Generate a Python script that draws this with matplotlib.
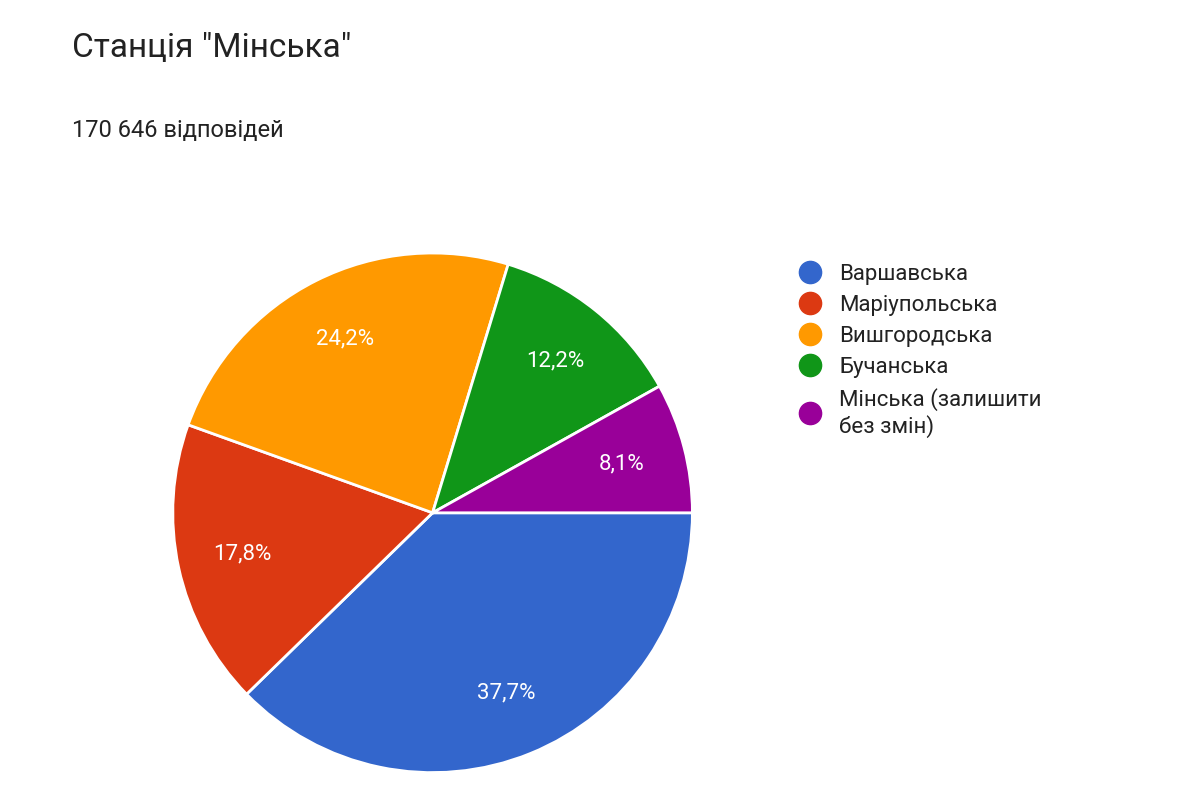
import matplotlib
matplotlib.use("Agg")
import matplotlib.pyplot as plt
from matplotlib.lines import Line2D

plt.rcParams['font.family'] = ['Roboto', 'DejaVu Sans']

labels = ["Варшавська", "Маріупольська", "Вишгородська", "Бучанська", "Мінська (залишити\nбез змін)"]
values = [37.7, 17.8, 24.2, 12.2, 8.1]
colors = ["#3366cc", "#dc3912", "#ff9900", "#109618", "#990099"]

fig = plt.figure(figsize=(12, 8), dpi=100)
fig.patch.set_facecolor("white")
ax = fig.add_axes([0.144, 0.034, 0.433, 0.65])
wedges, texts, autotexts = ax.pie(
    values, colors=colors, startangle=0, counterclock=False,
    autopct=lambda p: f"{p:.1f}%".replace(".", ","), pctdistance=0.75,
    wedgeprops=dict(edgecolor="white", linewidth=2),
    textprops=dict(color="white", fontsize=16))
ax.set_xlim(-1, 1); ax.set_ylim(-1, 1); ax.set_aspect("equal")

fig.text(0.06, 0.94, 'Станція "Мінська"', fontsize=24, color="#222222", va="center")
fig.text(0.06, 0.837, "170 646 відповідей", fontsize=17, color="#222222", va="center")

handles = [Line2D([], [], marker="o", linestyle="", markersize=16, markerfacecolor=c, markeredgecolor=c) for c in colors]
fig.legend(handles, labels, loc="upper left", bbox_to_anchor=(0.64, 0.695), frameon=False,
           fontsize=16, handletextpad=0.3, labelspacing=0.45, labelcolor="#222222")
fig.savefig("out.png", dpi=100)
